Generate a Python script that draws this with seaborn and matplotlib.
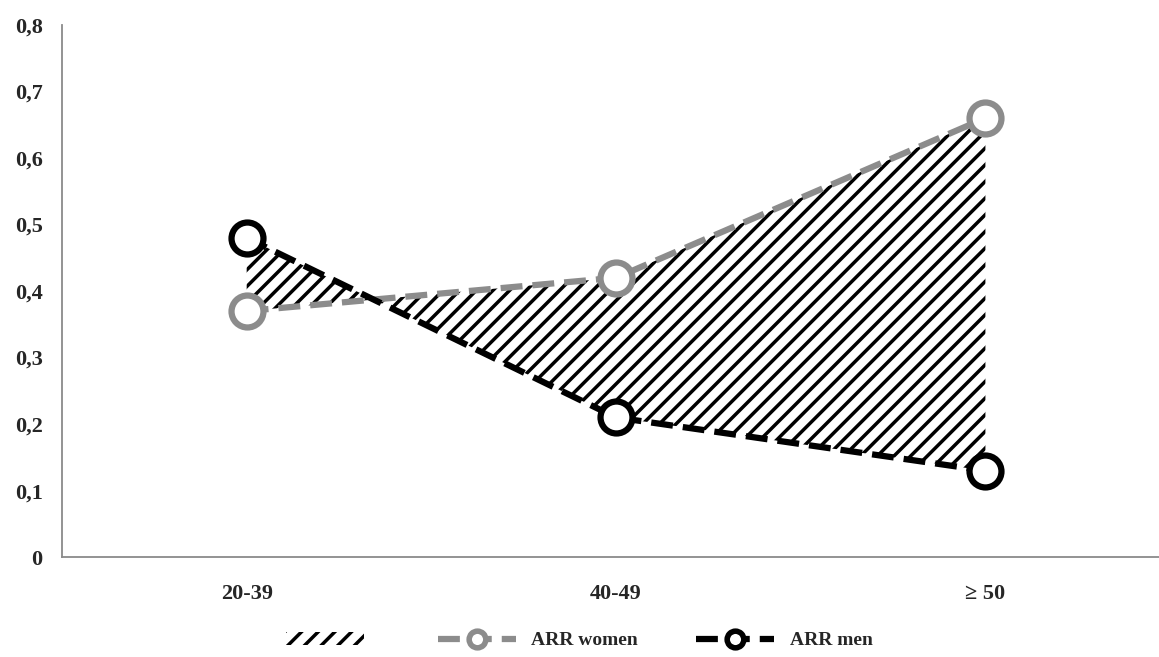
import pandas as pd
import matplotlib
matplotlib.use("Agg")
import matplotlib.pyplot as plt
import seaborn as sns
from matplotlib.patches import Patch
from matplotlib.lines import Line2D

# Chart data
age_groups = ["20-39", "40-49", "\u2265 50"]
arr_women = [0.37, 0.42, 0.66]
arr_men = [0.48, 0.21, 0.13]
y_ticks = [0, 0.1, 0.2, 0.3, 0.4, 0.5, 0.6, 0.7, 0.8]

sns.set_style("white")
plt.rcParams['font.family'] = ['Liberation Serif', 'DejaVu Serif']
plt.rcParams['font.weight'] = 'bold'
plt.rcParams['hatch.linewidth'] = 2.5

women_col = "#8c8c8c"
men_col = "black"
axis_col = "#8a8a8a"

pos = list(range(len(age_groups)))
df = pd.DataFrame({
    "pos": pos * 2,
    "value": arr_women + arr_men,
    "series": ["ARR women"] * 3 + ["ARR men"] * 3,
})

fig = plt.figure(figsize=(11.59, 6.57), dpi=100)
ax = fig.add_axes([0.0535, 0.152, 0.9465, 0.81])

# hatched area between the two series
ax.fill_between(pos, arr_women, arr_men, facecolor="none", edgecolor="black",
                hatch="//", linewidth=0)

sns.lineplot(data=df, x="pos", y="value", hue="series", style="series",
             palette={"ARR women": women_col, "ARR men": men_col},
             dashes={"ARR women": (3.5, 1.6), "ARR men": (3.5, 1.6)},
             markers={"ARR women": "o", "ARR men": "o"},
             linewidth=4.5, markersize=23, markerfacecolor="white",
             markeredgewidth=4.5, ax=ax, legend=False)
for line, col in zip(ax.get_lines(), [women_col, men_col]):
    line.set_markeredgecolor(col)

ax.set_xlim(-0.5, 2.47)
ax.set_ylim(0, 0.8)
ax.set_xticks(pos)
ax.set_xticklabels(age_groups)
ax.set_yticks(y_ticks)
ax.set_yticklabels(["0" if v == 0 else f"{v:.1f}".replace(".", ",") for v in y_ticks])
ax.set_xticks([1.5], minor=True)
ax.tick_params(axis="x", which="major", length=0, pad=19, labelsize=16)
ax.tick_params(axis="x", which="minor", direction="in", length=7, color=axis_col, width=1.2)
ax.tick_params(axis="y", length=5, color=axis_col, width=1.2, labelsize=16, pad=9)
for lab in ax.get_xticklabels() + ax.get_yticklabels():
    lab.set_fontweight("bold")
ax.set_xlabel("")
ax.set_ylabel("")

for side in ["top", "right"]:
    ax.spines[side].set_visible(False)
for side in ["left", "bottom"]:
    ax.spines[side].set_color(axis_col)
    ax.spines[side].set_linewidth(1.3)

handles = [
    Patch(facecolor="none", edgecolor="black", hatch="//", linewidth=0),
    Line2D([], [], color=women_col, linewidth=4.5, dashes=(3.5, 1.6), marker="o",
           markersize=12, markerfacecolor="white", markeredgecolor=women_col, markeredgewidth=4),
    Line2D([], [], color=men_col, linewidth=4.5, dashes=(3.5, 1.6), marker="o",
           markersize=12, markerfacecolor="white", markeredgecolor=men_col, markeredgewidth=4),
]
fig.legend(handles, ["", "ARR women", "ARR men"], loc="center", bbox_to_anchor=(0.5, 0.025),
           ncol=3, frameon=False, handlelength=4, columnspacing=3,
           prop={"weight": "bold", "size": 14})

fig.savefig("out.png", dpi=100)
